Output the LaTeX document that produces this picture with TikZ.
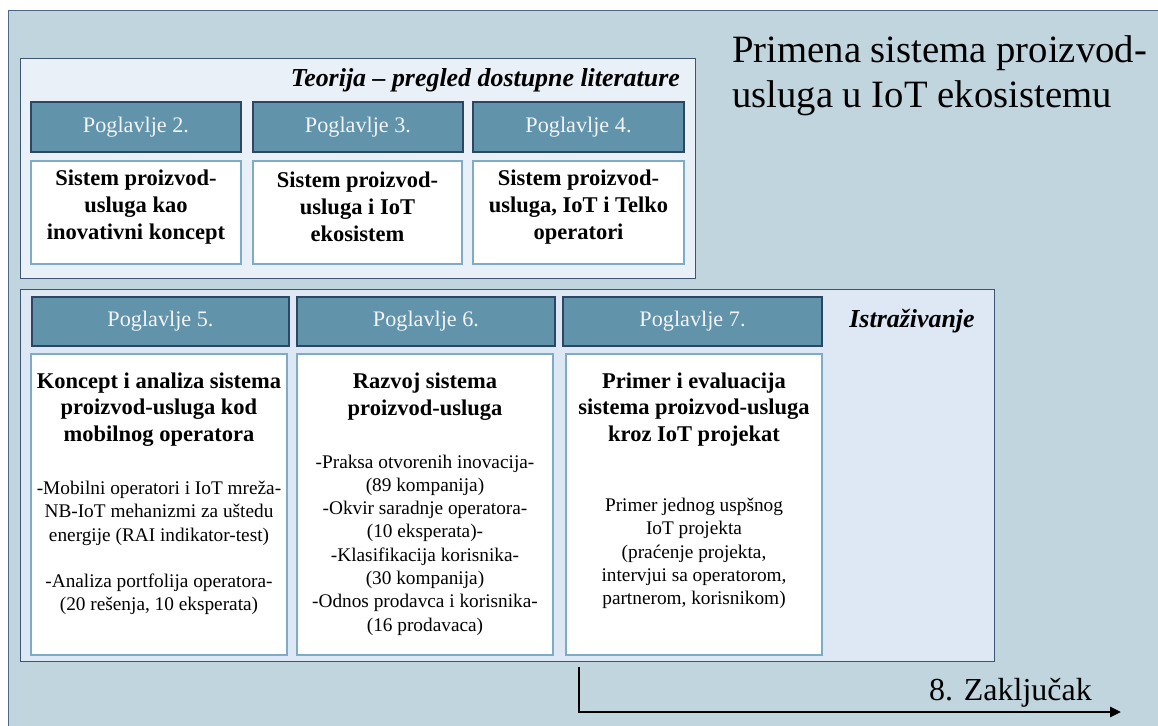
\documentclass[tikz,border=0pt]{standalone}
\usepackage{fontspec}
\setmainfont{Liberation Serif}
\usetikzlibrary{arrows.meta}
\definecolor{outerfill}{RGB}{193,213,222}
\definecolor{outerdraw}{RGB}{80,104,135}
\definecolor{topfill}{RGB}{234,240,248}
\definecolor{botfill}{RGB}{221,232,244}
\definecolor{paneldraw}{RGB}{62,84,115}
\definecolor{hdrfill}{RGB}{97,147,170}
\definecolor{hdrdraw}{RGB}{44,70,100}
\definecolor{boxdraw}{RGB}{124,172,199}
\definecolor{hdrtext}{RGB}{242,244,246}
\begin{document}
\begin{tikzpicture}[x=1pt,y=-1pt,
  outer/.style={draw=outerdraw,fill=outerfill,line width=1.4pt,anchor=north west,inner sep=0},
  panel/.style={draw=paneldraw,line width=1.4pt,anchor=north west,inner sep=0},
  hdr/.style={draw=hdrdraw,fill=hdrfill,line width=1.3pt,inner sep=0,
    text=hdrtext,font=\fontsize{22.2}{26}\selectfont},
  cbox/.style={draw=boxdraw,fill=white,line width=1.2pt,inner sep=0},
  headtxt/.style={align=center,inner sep=0,font=\fontsize{22.5}{26.7}\selectfont\bfseries},
  bodytxt/.style={align=center,inner sep=0,font=\fontsize{19.3}{23.3}\selectfont},
  tagtxt/.style={inner sep=0,font=\fontsize{25.9}{31}\selectfont\bfseries\itshape},
  flow/.style={line width=2.6pt,-{Triangle[length=11pt,width=10pt]}}]
\useasboundingbox (0,0) rectangle (1158,725);
\clip (0,0) rectangle (1158,725);
\fill[white] (0,0) rectangle (1158,725);

% background frame
\node[outer,minimum width=1165,minimum height=735] (frame) at (8,10) {};

% title
\node[anchor=west,align=left,inner sep=0,font=\fontsize{38.7}{45}\selectfont]
  (title) at (732,76) {Primena sistema proizvod-\\usluga u IoT ekosistemu};

% theory panel
\node[panel,fill=topfill,minimum width=675,minimum height=220] (theory) at (20,58) {};
\node[tagtxt,anchor=base east] (theorytag) at (680,86) {Teorija – pregled dostupne literature};

\node[hdr,minimum width=210,minimum height=50] (h2) at (136,127) {Poglavlje 2.};
\node[hdr,minimum width=210,minimum height=50] (h3) at (358,127) {Poglavlje 3.};
\node[hdr,minimum width=211,minimum height=50] (h4) at (578.5,127) {Poglavlje 4.};

\node[cbox,minimum width=210,minimum height=103] (c2) at (136,212.5) {};
\node[cbox,minimum width=209,minimum height=103] (c3) at (357.5,212.5) {};
\node[cbox,minimum width=211,minimum height=103] (c4) at (578.5,212.5) {};

\node[headtxt] (t2) at (136,207) {Sistem proizvod-\\usluga kao\\inovativni koncept};
\node[headtxt] (t3) at (357.5,207) {Sistem proizvod-\\usluga i IoT\\ekosistem};
\node[headtxt] (t4) at (578.5,207) {Sistem proizvod-\\usluga, IoT i Telko\\operatori};

% research panel
\node[panel,fill=botfill,minimum width=974,minimum height=372] (research) at (20,289) {};
\node[tagtxt,anchor=base] (researchtag) at (912,327) {Istraživanje};

\node[hdr,minimum width=257,minimum height=49] (h5) at (160.5,321.5) {Poglavlje 5.};
\node[hdr,minimum width=258,minimum height=49] (h6) at (426,321.5) {Poglavlje 6.};
\node[hdr,minimum width=259,minimum height=49] (h7) at (692.5,321.5) {Poglavlje 7.};

\node[cbox,minimum width=256,minimum height=301] (c5) at (159,504.5) {};
\node[cbox,minimum width=256,minimum height=301] (c6) at (425,504.5) {};
\node[cbox,minimum width=256,minimum height=301] (c7) at (694,504.5) {};

\node[headtxt] (t5) at (159,409.5) {Koncept i analiza sistema\\proizvod-usluga kod\\mobilnog operatora};
\node[bodytxt] (b5) at (159,548) {-Mobilni operatori i IoT mreža-\\NB-IoT mehanizmi za uštedu\\energije (RAI indikator-test)\\[23.3pt]-Analiza portfolija operatora-\\(20 rešenja, 10 eksperata)};

\node[headtxt] (t6) at (425,396.5) {Razvoj sistema\\proizvod-usluga};
\node[bodytxt] (b6) at (425,545) {-Praksa otvorenih inovacija-\\(89 kompanija)\\-Okvir saradnje operatora-\\(10 eksperata)-\\-Klasifikacija korisnika-\\(30 kompanija)\\-Odnos prodavca i korisnika-\\(16 prodavaca)};

\node[headtxt] (t7) at (694,409.5) {Primer i evaluacija\\sistema proizvod-usluga\\kroz IoT projekat};
\node[bodytxt] (b7) at (694,553.5) {Primer jednog uspšnog\\IoT projekta\\(praćenje projekta,\\intervjui sa operatorom,\\partnerom, korisnikom)};

% conclusion arrow
\coordinate (arrstart) at (579,667);
\coordinate (arrend) at (1121,712);
\draw[flow] (arrstart) |- (arrend);
\node[anchor=base east,inner sep=0,font=\fontsize{32}{38}\selectfont] (concl) at (1092,700) {8. Zaključak};
\end{tikzpicture}
\end{document}
